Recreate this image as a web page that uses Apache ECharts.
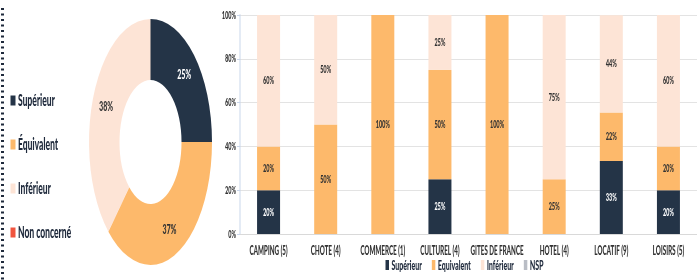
<!DOCTYPE html>
<html lang="fr">
<head>
<meta charset="UTF-8">
<script src="https://cdn.jsdelivr.net/npm/echarts@6/dist/echarts.min.js"></script>
<title>Comparaison</title>
<style>
  html, body { margin: 0; padding: 0; overflow: hidden; background: #fff; }
  /* the reference is squeezed horizontally: draw at double width then halve */
  #container { width: 1394px; height: 280px; transform: scaleX(0.5); transform-origin: 0 0; }
</style>
</head>
<body>
<div id="container"></div>
<script>
  // donut data
  var pieNames = ['Supérieur', 'Équivalent', 'Inférieur', 'Non concerné'];
  var pieValues = [25, 37, 38, 0];

  // bar data (percent per category)
  var categories = ['CAMPING (5)', 'CHOTE (4)', 'COMMERCE (1)', 'CULTUREL (4)', 'GITES DE FRANCE', 'HOTEL (4)', 'LOCATIF (9)', 'LOISIRS (5)'];
  var barNames = ['Supérieur', 'Equivalent', 'Inférieur', 'NSP'];
  var superieur = [20, 0, 0, 25, 0, 0, 33.3, 20];
  var equivalent = [20, 50, 100, 50, 100, 25, 22.2, 20];
  var inferieur = [60, 50, 0, 25, 0, 75, 44.4, 60];
  var nsp = [0, 0, 0, 0, 0, 0, 0, 0];
  var yTicks = [0, 20, 40, 60, 80, 100];

  var pieColors = ['#243447', '#FDB96B', '#FDE4D6', '#F0553F'];
  var barColors = ['#243447', '#FDB96B', '#FDE4D6', '#B9BDC5'];
  var FONT = 'Lato';
  var WEIGHT = 900;

  var myChart = echarts.init(document.getElementById('container'));

  var pieData = pieNames.map(function (n, i) {
    return {
      name: n, value: pieValues[i],
      itemStyle: { color: pieColors[i] },
      label: { color: i === 0 ? '#ffffff' : '#333333', show: pieValues[i] > 0 }
    };
  });

  function barSeries(name, values, idx) {
    return {
      name: name,
      type: 'bar',
      stack: 'total',
      barWidth: 46,
      itemStyle: { color: barColors[idx] },
      emphasis: { disabled: true },
      label: {
        show: true,
        position: 'inside',
        fontFamily: FONT, fontSize: 11, fontWeight: WEIGHT,
        color: idx === 0 ? '#ffffff' : '#333333',
        formatter: function (p) { return p.value > 0 ? Math.round(p.value) + '%' : ''; }
      },
      data: values
    };
  }

  var option = {
    animation: false,
    legend: [
      {
        data: pieNames,
        orient: 'vertical',
        left: 16, top: 87,
        itemWidth: 10, itemHeight: 10, itemGap: 27,
        icon: 'rect',
        selectedMode: false,
        textStyle: { fontFamily: FONT, fontSize: 17, fontWeight: WEIGHT, color: '#1f2a3c' }
      },
      {
        data: barNames,
        orient: 'horizontal',
        left: 766, top: 256, padding: [2, 5],
        itemWidth: 7, itemHeight: 10, itemGap: 20,
        icon: 'rect',
        selectedMode: false,
        textStyle: { fontFamily: FONT, fontSize: 14, fontWeight: WEIGHT, color: '#1f2a3c' }
      }
    ],
    grid: { left: 480, top: 15, bottom: 46, right: -16 },
    xAxis: {
      type: 'category',
      data: categories,
      axisLine: { lineStyle: { color: '#d9d9d9' } },
      axisTick: { show: false },
      axisLabel: { interval: 0, margin: 10, fontFamily: FONT, fontSize: 12.5, fontWeight: WEIGHT, color: '#333333' }
    },
    yAxis: {
      type: 'value',
      min: 0, max: 100, interval: 20,
      axisLine: { show: true, lineStyle: { color: '#c9d6ea', width: 2 } },
      axisTick: { show: true, length: 6, lineStyle: { color: '#c9d6ea' } },
      splitLine: { lineStyle: { color: '#e3e3e3' } },
      axisLabel: {
        margin: 8, fontFamily: FONT, fontSize: 11, fontWeight: WEIGHT, color: '#333333',
        formatter: function (v) { return yTicks.indexOf(v) >= 0 ? v + '%' : ''; }
      }
    },
    graphic: [{
      type: 'line',
      shape: { x1: 5, y1: 8, x2: 5, y2: 280 },
      style: { stroke: '#1f2a3c', lineWidth: 6, lineDash: [2, 3.5] }
    }],
    series: [
      {
        name: 'Ensemble',
        type: 'pie',
        center: [301, 142],
        radius: [62, 123],
        startAngle: 90,
        clockwise: true,
        avoidLabelOverlap: false,
        emphasis: { disabled: true },
        label: {
          position: 'inside',
          fontFamily: FONT, fontSize: 14, fontWeight: WEIGHT,
          formatter: '{c}%'
        },
        labelLine: { show: false },
        data: pieData
      },
      barSeries(barNames[0], superieur, 0),
      barSeries(barNames[1], equivalent, 1),
      barSeries(barNames[2], inferieur, 2),
      barSeries(barNames[3], nsp, 3)
    ]
  };

  myChart.setOption(option);
</script>
</body>
</html>
